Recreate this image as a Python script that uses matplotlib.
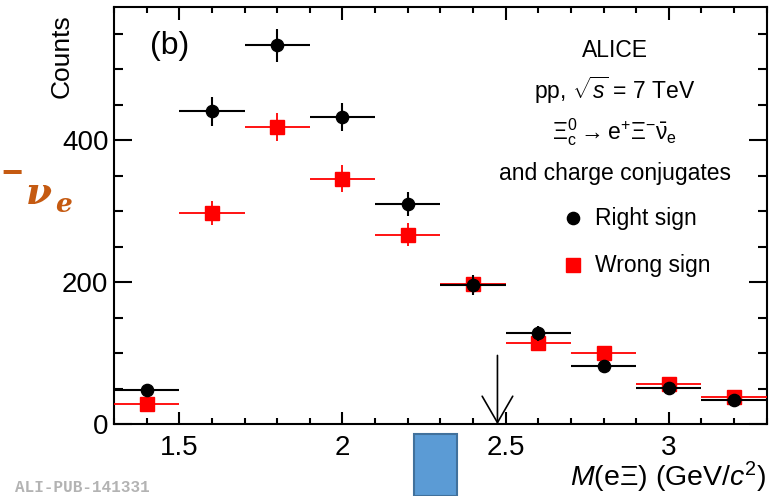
import numpy as np
import matplotlib
matplotlib.use("Agg")
import matplotlib.pyplot as plt
from matplotlib.ticker import MultipleLocator, FuncFormatter
from matplotlib.patches import Rectangle

plt.rcParams['font.family'] = ['Liberation Sans', 'DejaVu Sans']
plt.rcParams['mathtext.fontset'] = 'custom'
plt.rcParams['mathtext.rm'] = 'Liberation Sans'
plt.rcParams['mathtext.it'] = 'Liberation Sans:italic'
plt.rcParams['mathtext.bf'] = 'Liberation Sans:bold'

# ---- invariant mass bins (GeV/c^2) ----
bin_centers = [1.4, 1.6, 1.8, 2.0, 2.2, 2.4, 2.6, 2.8, 3.0, 3.2]
bin_halfwidth = 0.1

# right-sign e Xi pairs
rs_counts = [48, 441, 534, 433, 311, 196, 128, 82, 51, 34]
rs_err = [7, 20, 23, 20, 17, 14, 11, 9, 7, 6]

# wrong-sign e Xi pairs
ws_counts = [29, 298, 419, 346, 267, 197, 114, 100, 57, 39]
ws_err = [5, 17, 20, 19, 16, 14, 11, 10, 8, 6]

# Xi_c^0 mass marker
xic_mass = 2.475
arrow_len = 97

fig = plt.figure(figsize=(7.82, 4.96), dpi=100)
ax = fig.add_axes([0.1458, 0.1446, 0.8346, 0.8413])

x = np.array(bin_centers)
ax.errorbar(x, ws_counts, xerr=bin_halfwidth, yerr=ws_err, fmt='s', color='#ff0000',
            ms=9.5, elinewidth=1.3, capsize=0, zorder=3)
ax.errorbar(x, rs_counts, xerr=bin_halfwidth, yerr=rs_err, fmt='o', color='black',
            ms=8.8, elinewidth=1.5, capsize=0, zorder=4)

ax.annotate('', xy=(xic_mass, 0), xytext=(xic_mass, arrow_len),
            arrowprops=dict(arrowstyle='->,head_length=0.95,head_width=0.55',
                            lw=1.2, color='black', mutation_scale=20,
                            shrinkA=0, shrinkB=0), zorder=5)

ax.set_xlim(1.3, 3.3)
ax.set_ylim(0, 588)
ax.xaxis.set_major_locator(MultipleLocator(0.5))
ax.xaxis.set_minor_locator(MultipleLocator(0.1))
ax.yaxis.set_major_locator(MultipleLocator(200))
ax.yaxis.set_minor_locator(MultipleLocator(50))
ax.xaxis.set_major_formatter(FuncFormatter(lambda v, p: '%g' % v))

ax.tick_params(axis='both', which='both', direction='in', top=True, right=True, width=1.5)
ax.tick_params(axis='y', which='major', length=13, labelsize=20, pad=4)
ax.tick_params(axis='y', which='minor', length=6.5)
ax.tick_params(axis='x', which='major', length=9, labelsize=20, pad=8)
ax.tick_params(axis='x', which='minor', length=4.5)
for s in ax.spines.values():
    s.set_linewidth(1.5)

fig.text(62 / 782, 1 - 14 / 496, 'Counts', rotation=90, ha='center', va='top', fontsize=19)
ax.text(1.0, -0.085, r'$M$(e$\Xi$) (GeV/$c^2$)', transform=ax.transAxes,
        ha='right', va='top', fontsize=20.5)

ax.text(1.41, 533, '(b)', fontsize=23, ha='left', va='center')

cx = 2.835
fs = 16.5
ax.text(cx, 527, 'ALICE', fontsize=fs, ha='center', va='center')
ax.text(cx, 470, r'pp, $\sqrt{s}$ = 7 TeV', fontsize=fs, ha='center', va='center')
ax.text(cx, 411, r'$\Xi_{\rm c}^{0}\rightarrow$e$^{+}\Xi^{-}\bar{\mathrm{\nu}}_{\rm e}$',
        fontsize=fs, ha='center', va='center')
ax.text(cx, 354, 'and charge conjugates', fontsize=fs, ha='center', va='center')

ax.plot([2.708], [290], 'o', color='black', ms=8.8, clip_on=False)
ax.text(2.773, 290, 'Right sign', fontsize=fs, ha='left', va='center')
ax.plot([2.708], [224], 's', color='#ff0000', ms=9.5, clip_on=False)
ax.text(2.773, 224, 'Wrong sign', fontsize=fs, ha='left', va='center')

fig.text(15 / 782, 1 - 488 / 496, 'ALI-PUB-141331', fontsize=11.5, color='#b3b3b3',
         family='Liberation Mono', weight='bold', ha='left', va='center')

# stray overlay glyphs
fig.text(1 / 782, 1 - 172 / 496, '\u2012', fontsize=22, color='#c55a11',
         family='DejaVu Serif', weight='bold', ha='left', va='center')
fig.text(26 / 782, 1 - 193 / 496, '\u03bd', fontsize=27, color='#c55a11',
         family='DejaVu Serif', weight='bold', style='italic', ha='left', va='center')
fig.text(55 / 782, 1 - 205 / 496, 'e', fontsize=19, color='#c55a11',
         family='DejaVu Serif', weight='bold', style='italic', ha='left', va='center')

fig.patches.append(Rectangle((414 / 782, 0), 43 / 782, 62 / 496, transform=fig.transFigure,
                             facecolor='#5b9bd5', edgecolor='#41719c', lw=1.5))

fig.savefig('out.png', dpi=100)
